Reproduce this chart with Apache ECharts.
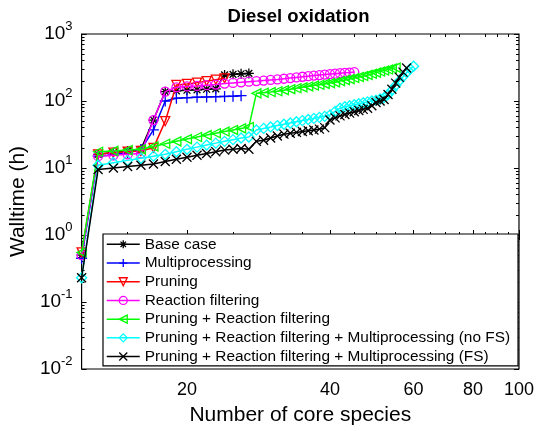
<!DOCTYPE html>
<html><head><meta charset="utf-8">
<script src="https://cdn.jsdelivr.net/npm/echarts@6/dist/echarts.min.js"></script>
<style>html,body{margin:0;padding:0;background:#fff}#c{width:537px;height:431px}</style>
</head><body><div id="c"></div>
<script>
const FONT = '"Liberation Sans", Arial, Helvetica, sans-serif';
const seriesNames = ['Base case','Multiprocessing','Pruning','Reaction filtering','Pruning + Reaction filtering','Pruning + Reaction filtering + Multiprocessing (no FS)','Pruning + Reaction filtering + Multiprocessing (FS)'];

const xBase = [12,13,14,15,16,17,18,19,20,21,22,23,24,25,26,27];
const yBase = [0.5,16,17,18,19,52,138,142,145,147,150,152,245,250,255,258];

const xMulti = [12,13,14,15,16,17,18,19,20,21,22,23,24,25,26];
const yMulti = [0.45,15,15.8,17,18.8,37,100,110,112,114,115,116,117,118,120];

const xPrun = [12,13,14,15,16,17,18,19,20,21,22,23,24];
const yPrun = [0.55,16,17,17.5,18,20,50,174,180,188,198,208,218];

const xRF = [12,13,14,15,16,17,18,19,20,21,22,23,24,25,26,27,28,29,30,31,32,33,34,35,36,37,38,39,40,41,42,43,44,45];
const yRF = [0.5,15,15.5,16,16.5,52,138,160,165,168,172,176,182,186,190,194,198,202,206,210,215,220,225,230,235,240,244,248,252,256,260,263,266,270];

const xPRF = [12,13,14,15,16,17,18,19,20,21,22,23,24,25,26,27,28,29,30,31,32,33,34,35,36,37,38,39,40,41,42,43,44,45,46,47,48,49,50,51,52,53,54,55];
const yPRF = [0.55,17.5,18,18.5,19,21,23,25,27,29,31,33,35,37,39,41,130,133,136,140,145,150,155,160,165,170,175,180,185,190,198,205,212,220,228,236,245,255,265,275,285,295,305,315];

const xNoFS = [12,13,14,15,16,17,18,19,20,21,22,23,24,25,26,27,28,29,30,31,32,33,34,35,36,37,38,39,40,41,42,43,44,45,46,47,48,49,50,51,52,53,54,55,56,57,58,59,60];
const yNoFS = [0.23,11,12,13,14,15,16,17.5,19,20.5,22,23.5,25,26.5,28,29,37,39,41,43,45,47,49,51,53,55,57,59,62,70,78,82,85,88,91,94,97,100,103,107,112,125,145,170,200,230,265,300,330];

const xFS = [12,13,14,15,16,17,18,19,20,21,22,23,24,25,26,27,28,29,30,31,32,33,34,35,36,37,38,39,40,41,42,43,44,45,46,47,48,49,50,51,52,53,54,55,56,57,58];
const yFS = [0.23,9.5,10,10.5,11,11.5,12.5,13.5,14.5,15.5,16.5,17.5,18.5,19,19.5,19,25,26,28,30,32,33,34,35,36,37,38,40,52,56,60,63,66,69,72,75,78,85,95,100,105,125,150,185,225,270,310];

const xTickLabels = [20,40,60,80,100];
const xMinorTicks = [15,25,30,35,45,50,55,65,70,75,85,90,95];
const yTickExponents = [-2,-1,0,1,2,3];
const yMinorTicks = [0.02,0.03,0.04,0.05,0.06,0.07,0.08,0.09,0.2,0.3,0.4,0.5,0.6,0.7,0.8,0.9,2,3,4,5,6,7,8,9,20,30,40,50,60,70,80,90,200,300,400,500,600,700,800,900];

const colors = ['#000000','#0000ff','#ff0000','#ff00ff','#00ff00','#00ffff','#000000'];
const P_AST = 'path://M5,0L5,10M0,5L10,5M1.6,1.6L8.4,8.4M1.6,8.4L8.4,1.6';
const P_PLUS = 'path://M5,0L5,10M0,5L10,5';
const P_X = 'path://M0,0L10,10M0,10L10,0';
const symbols = [P_AST, P_PLUS, 'triangle', 'circle', 'triangle', 'diamond', P_X];
const rotations = [0,0,180,0,90,0,0];
const sizes = [10,11,9,9,9,10,9];
const xs = [xBase,xMulti,xPrun,xRF,xPRF,xNoFS,xFS];
const ys = [yBase,yMulti,yPrun,yRF,yPRF,yNoFS,yFS];

const L = Math.log10;
const xMinL = L(12), xMaxL = 2;

function tickAxisX(pos, vals, len, showLabel, extra) {
  return Object.assign({
    type:'value', min:xMinL, max:xMaxL, position:pos, gridIndex:0,
    axisLine:{show:false}, splitLine:{show:false},
    axisTick:{show:true, inside:true, length:len, customValues:vals.map(L), lineStyle:{color:'#000', width:1}},
    axisLabel: showLabel ? {show:true, customValues:vals.map(L), margin:12, color:'#000', fontSize:18, fontFamily:FONT,
       formatter: v => String(Math.round(Math.pow(10, v)))} : {show:false}
  }, extra || {});
}
function tickAxisY(pos, vals, len, showLabel, extra) {
  return Object.assign({
    type:'value', min:-2, max:3, interval:1, position:pos, gridIndex:0,
    axisLine:{show:false}, splitLine:{show:false},
    axisTick:{show:true, inside:true, length:len, customValues:vals, lineStyle:{color:'#000', width:1}},
    axisLabel: showLabel ? {show:true, margin:9, color:'#000', fontFamily:FONT,
       formatter: v => '{b|10}{e|' + v + '}',
       rich:{ b:{fontSize:19, fontFamily:FONT, color:'#000', lineHeight:28}, e:{fontSize:13, fontFamily:FONT, color:'#000', verticalAlign:'top', lineHeight:14} }
    } : {show:false}
  }, extra || {});
}

const yMajorL = yTickExponents;
const yMinorL = yMinorTicks.map(L);

const series = seriesNames.map((name, i) => ({
  name, type:'line', xAxisIndex:0, yAxisIndex:0,
  data: xs[i].map((x, j) => [x, ys[i][j]]),
  symbol: symbols[i], symbolRotate: rotations[i], symbolSize: sizes[i],
  showSymbol:true,
  lineStyle:{color:colors[i], width:1.5},
  itemStyle:{color:'rgba(0,0,0,0)', borderColor:colors[i], borderWidth:1.3},
  emphasis:{disabled:true}, animation:false, z: 2 + i*0.01
}));

const legendData = seriesNames.map((name, i) => ({
  name,
  itemStyle:{color:'rgba(0,0,0,0)', borderColor:colors[i], borderWidth:1.3},
  lineStyle:{color:colors[i], width:1.5}
}));

const chart = echarts.init(document.getElementById('c'), null, {renderer:'canvas'});
chart.setOption({
  animation:false,
  backgroundColor:'#fff',
  grid:{left:77, right:17, top:34, bottom:61, show:true, borderColor:'#000', borderWidth:1.2, backgroundColor:'transparent', containLabel:false},
  graphic:[{type:'text', x:298.5, y:17, z:10, style:{text:'Diesel oxidation', font:'bold 18.5px ' + FONT, fill:'#000', textAlign:'center', textVerticalAlign:'middle'}}],
  xAxis:[
    {type:'log', logBase:10, min:12, max:100, show:false},
    tickAxisX('bottom', xTickLabels, 5, true, {name:'Number of core species', nameLocation:'middle', nameGap:36, nameTextStyle:{fontSize:21, fontFamily:FONT, color:'#000'}}),
    tickAxisX('bottom', xMinorTicks, 3, false),
    tickAxisX('top', xTickLabels, 5, false),
    tickAxisX('top', xMinorTicks, 3, false)
  ],
  yAxis:[
    {type:'log', logBase:10, min:0.01, max:1000, show:false},
    tickAxisY('left', yMajorL, 5, true, {name:'Walltime (h)', nameLocation:'middle', nameGap:41, nameTextStyle:{fontSize:21, fontFamily:FONT, color:'#000'}}),
    tickAxisY('left', yMinorL, 3, false),
    tickAxisY('right', yMajorL, 5, false),
    tickAxisY('right', yMinorL, 3, false)
  ],
  legend:{
    orient:'vertical', left:103, top:234, itemWidth:33, itemHeight:10, itemGap:0,
    padding:[1,8,0,3], borderColor:'#000', borderWidth:1.2, backgroundColor:'#fff',
    textStyle:{fontSize:15.4, fontFamily:FONT, color:'#000', lineHeight:18.7},
    data: legendData, selectedMode:false
  },
  series
});
</script>
</body></html>
